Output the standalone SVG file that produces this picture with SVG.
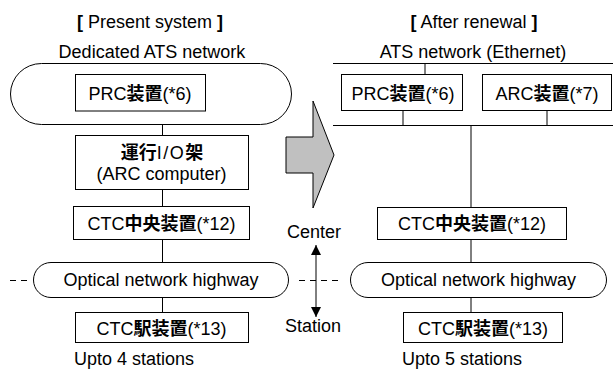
<svg xmlns="http://www.w3.org/2000/svg" width="613" height="369" viewBox="0 0 613 369">
<defs>
<style>
text{font-family:"Liberation Sans","Noto Sans CJK JP",sans-serif;font-size:18px;fill:#000}
.m{text-anchor:middle}
.b{font-weight:bold}
.io{font-weight:normal;letter-spacing:1.5px}
.box{fill:#fff;stroke:#000;stroke-width:1}
.ln{stroke:#000;stroke-width:1;fill:none}
.dash{stroke:#000;stroke-width:1;stroke-dasharray:6 5;fill:none}
</style>
<marker id="arr" viewBox="0 0 10 10" refX="10" refY="5" markerUnits="userSpaceOnUse" markerWidth="11" markerHeight="10" orient="auto-start-reverse">
<path d="M0,0 L10,5 L0,10 z" fill="#000"/>
</marker>
</defs>
<rect width="613" height="369" fill="#fff"/>

<g id="titles">
<text class="m" x="150" y="28"><tspan class="b">[</tspan> Present system <tspan class="b">]</tspan></text>
<text class="m" x="152" y="58">Dedicated ATS network</text>
<text class="m" x="474" y="28"><tspan class="b">[</tspan> After renewal <tspan class="b">]</tspan></text>
<text class="m" x="473" y="58">ATS network (Ethernet)</text>
</g>

<g id="connectors">
<line class="ln" x1="143" y1="111" x2="143" y2="125"/>
<line class="ln" x1="162.5" y1="125" x2="162.5" y2="135"/>
<line class="ln" x1="162.5" y1="190" x2="162.5" y2="206"/>
<line class="ln" x1="162.5" y1="240" x2="162.5" y2="262"/>
<line class="ln" x1="162.5" y1="298" x2="162.5" y2="312"/>
<line class="ln" x1="333" y1="63.5" x2="613" y2="63.5"/>
<line class="ln" x1="333" y1="125.5" x2="613" y2="125.5"/>
<line class="ln" x1="425" y1="63.5" x2="425" y2="74"/>
<line class="ln" x1="403" y1="111" x2="403" y2="125.5"/>
<line class="ln" x1="547" y1="111" x2="547" y2="125.5"/>
<line class="ln" x1="471" y1="125.5" x2="471" y2="207"/>
<line class="ln" x1="471" y1="240" x2="471" y2="262"/>
<line class="ln" x1="471" y1="298" x2="471" y2="312"/>
<line class="dash" x1="10" y1="280.5" x2="28" y2="280.5"/>
<line class="dash" x1="299" y1="280.5" x2="338" y2="280.5"/>
<line class="ln" x1="316" y1="245" x2="316" y2="317" marker-start="url(#arr)" marker-end="url(#arr)"/>
</g>

<g id="dedicated-ats-network">
<rect class="box" x="10.5" y="63.5" width="281" height="61" rx="31" ry="31"/>
</g>

<g id="prc-left">
<rect class="box" x="75.5" y="74.5" width="130" height="36.5"/>
<text class="m" x="140" y="100">PRC<tspan class="b">装置</tspan>(*6)</text>
</g>

<g id="unko-io">
<rect class="box" x="75.5" y="135.5" width="173" height="54"/>
<text class="m b" x="162" y="159">運行<tspan class="io">I/O</tspan>架</text>
<text class="m" x="161.5" y="180">(ARC computer)</text>
</g>

<g id="ctc-center-left">
<rect class="box" x="73.5" y="206.5" width="176" height="33"/>
<text class="m" x="161.5" y="230">CTC<tspan class="b">中央装置</tspan>(*12)</text>
</g>

<g id="optical-left">
<rect class="box" x="33.5" y="262.5" width="255" height="35" rx="17.5" ry="17.5"/>
<text class="m" x="161" y="286">Optical network highway</text>
</g>

<g id="ctc-station-left">
<rect class="box" x="75.5" y="312.5" width="173" height="30"/>
<text class="m" x="161.5" y="335">CTC<tspan class="b">駅装置</tspan>(*13)</text>
</g>
<text id="upto4" x="74" y="365">Upto 4 stations</text>

<g id="renewal-arrow">
<polygon points="286,137 313,137 313,101 334,155 313,208 313,173 286,173" fill="#c0c0c0" stroke="#000" stroke-width="1"/>
</g>

<g id="center-station">
<text class="m" x="314" y="238">Center</text>
<text class="m" x="313" y="332">Station</text>
</g>

<g id="prc-right">
<rect class="box" x="341.5" y="74.5" width="121" height="36"/>
<text class="m" x="403" y="100">PRC<tspan class="b">装置</tspan>(*6)</text>
</g>

<g id="arc-right">
<rect class="box" x="482.5" y="74.5" width="129" height="36"/>
<text class="m" x="547" y="100">ARC<tspan class="b">装置</tspan>(*7)</text>
</g>

<g id="ctc-center-right">
<rect class="box" x="377.5" y="207.5" width="189" height="32"/>
<text class="m" x="472" y="230">CTC<tspan class="b">中央装置</tspan>(*12)</text>
</g>

<g id="optical-right">
<rect class="box" x="350.5" y="262.5" width="256" height="35" rx="17.5" ry="17.5"/>
<text class="m" x="478.5" y="286">Optical network highway</text>
</g>

<g id="ctc-station-right">
<rect class="box" x="403.5" y="312.5" width="159" height="30"/>
<text class="m" x="483" y="335">CTC<tspan class="b">駅装置</tspan>(*13)</text>
</g>
<text id="upto5" x="402" y="365">Upto 5 stations</text>
</svg>
